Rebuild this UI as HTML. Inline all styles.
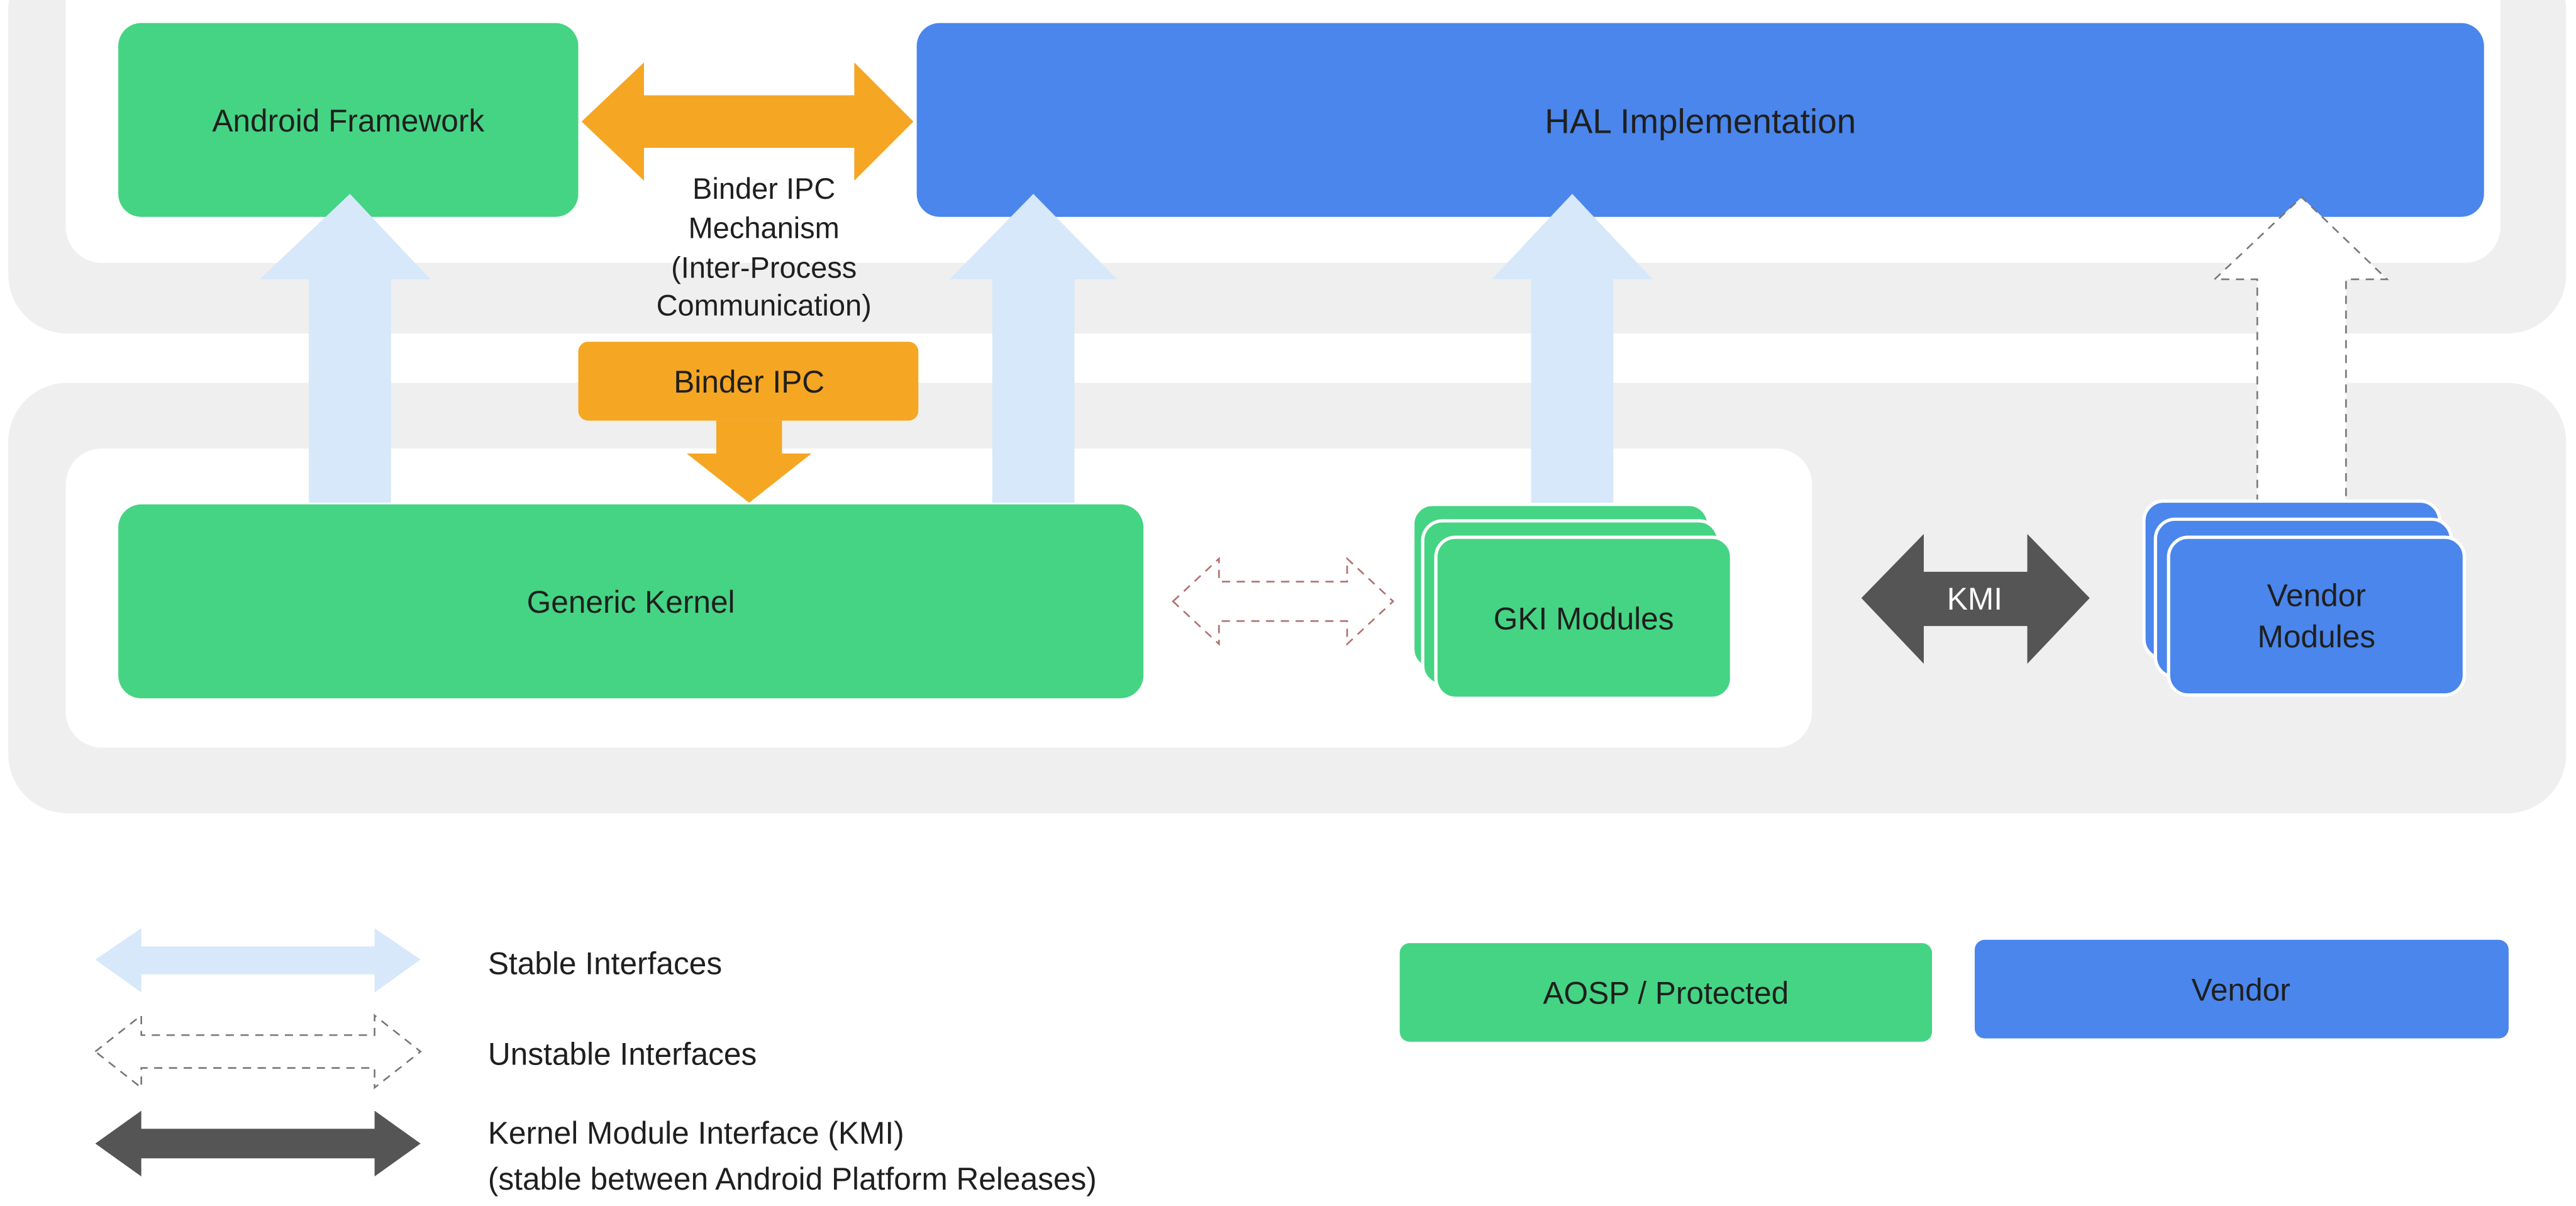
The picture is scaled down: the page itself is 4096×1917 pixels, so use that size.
<!DOCTYPE html>
<html><head><meta charset="utf-8"><style>
html,body{margin:0;padding:0;background:#fff;}
svg{display:block;}
text{font-family:"Liberation Sans",sans-serif;fill:#1f1f1f;}
</style></head><body>
<svg width="4096" height="1917" viewBox="0 0 1568 734" preserveAspectRatio="none" xmlns="http://www.w3.org/2000/svg">
<rect x="0" y="0" width="1568" height="734" fill="#fff"/>
<rect x="5" y="-30" width="1557" height="233" rx="36" fill="#efefef"/>
<rect x="40" y="-20" width="1482" height="180" rx="22" fill="#fff"/>
<rect x="5" y="233" width="1557" height="262" rx="36" fill="#efefef"/>
<rect x="40" y="273" width="1063" height="182" rx="22" fill="#fff"/>

<rect x="72" y="14" width="280" height="118" rx="14" fill="#45d483"/>
<text x="212" y="80" font-size="19" text-anchor="middle">Android Framework</text>
<rect x="558" y="14" width="954" height="118" rx="14" fill="#4a86ec"/>
<text x="1035" y="81" font-size="21" text-anchor="middle">HAL Implementation</text>

<g fill="#d6e8f9">
<polygon points="188,306 188,170 158,170 213,118 262,170 238,170 238,306"/>
<polygon points="604,306 604,170 578,170 629,118 680,170 654,170 654,306"/>
<polygon points="932,306 932,170 908,170 957,118 1006,170 982,170 982,306"/>
</g>
<polygon points="1374,306 1374,170 1348,170 1401,120 1453,170 1428,170 1428,306" fill="#fff" stroke="#777" stroke-width="1" stroke-dasharray="5,4"/>

<polygon points="354,74 392,38 392,58 520,58 520,38 556,74 520,110 520,90 392,90 392,110" fill="#f5a623"/>
<g font-size="18" text-anchor="middle">
<text x="465" y="121">Binder IPC</text>
<text x="465" y="145">Mechanism</text>
<text x="465" y="169">(Inter-Process</text>
<text x="465" y="192">Communication)</text>
</g>
<rect x="352" y="208" width="207" height="48" rx="6" fill="#f5a623"/>
<text x="456" y="239" font-size="19" text-anchor="middle">Binder IPC</text>
<polygon points="436,256 476,256 476,276 494,276 456,306 418,276 436,276" fill="#f5a623"/>

<rect x="72" y="307" width="624" height="118" rx="14" fill="#45d483"/>
<text x="384" y="373" font-size="19" text-anchor="middle">Generic Kernel</text>

<polygon points="714,366 742,340 742,354 820,354 820,340 848,366 820,392 820,378 742,378 742,392" fill="#fff" stroke="#b07070" stroke-width="1" stroke-dasharray="5,4"/>

<rect x="860" y="307" width="180" height="100" rx="12" fill="#45d483" stroke="#fff" stroke-width="2"/>
<rect x="866" y="317" width="180" height="100" rx="12" fill="#45d483" stroke="#fff" stroke-width="2"/>
<rect x="874" y="327" width="180" height="98" rx="12" fill="#45d483" stroke="#fff" stroke-width="2"/>
<text x="964" y="383" font-size="19" text-anchor="middle">GKI Modules</text>

<polygon points="1133,364 1171,325 1171,348 1234,348 1234,325 1272,364 1234,404 1234,381 1171,381 1171,404" fill="#555"/>
<text x="1202" y="371" font-size="19" text-anchor="middle" style="fill:#fff">KMI</text>

<rect x="1305" y="305" width="180" height="96" rx="12" fill="#4a86ec" stroke="#fff" stroke-width="2"/>
<rect x="1312" y="316" width="180" height="96" rx="12" fill="#4a86ec" stroke="#fff" stroke-width="2"/>
<rect x="1320" y="327" width="180" height="96" rx="12" fill="#4a86ec" stroke="#fff" stroke-width="2"/>
<text x="1410" y="369" font-size="19" text-anchor="middle">Vendor</text>
<text x="1410" y="394" font-size="19" text-anchor="middle">Modules</text>

<polygon points="58,584 86,565 86,576 228,576 228,565 256,584 228,604 228,593 86,593 86,604" fill="#d6e8f9"/>
<text x="297" y="593" font-size="19">Stable Interfaces</text>
<polygon points="58,640 86,618 86,630 228,630 228,618 256,640 228,662 228,650 86,650 86,662" fill="#fff" stroke="#777" stroke-width="1" stroke-dasharray="5,4"/>
<text x="297" y="648" font-size="19">Unstable Interfaces</text>
<polygon points="58,696 86,676 86,687 228,687 228,676 256,696 228,716 228,705 86,705 86,716" fill="#555"/>
<text x="297" y="696" font-size="19">Kernel Module Interface (KMI)</text>
<text x="297" y="724" font-size="19">(stable between Android Platform Releases)</text>

<rect x="852" y="574" width="324" height="60" rx="6" fill="#45d483"/>
<text x="1014" y="611" font-size="19" text-anchor="middle">AOSP / Protected</text>
<rect x="1202" y="572" width="325" height="60" rx="6" fill="#4a86ec"/>
<text x="1364" y="609" font-size="19" text-anchor="middle">Vendor</text>
</svg>
</body></html>
